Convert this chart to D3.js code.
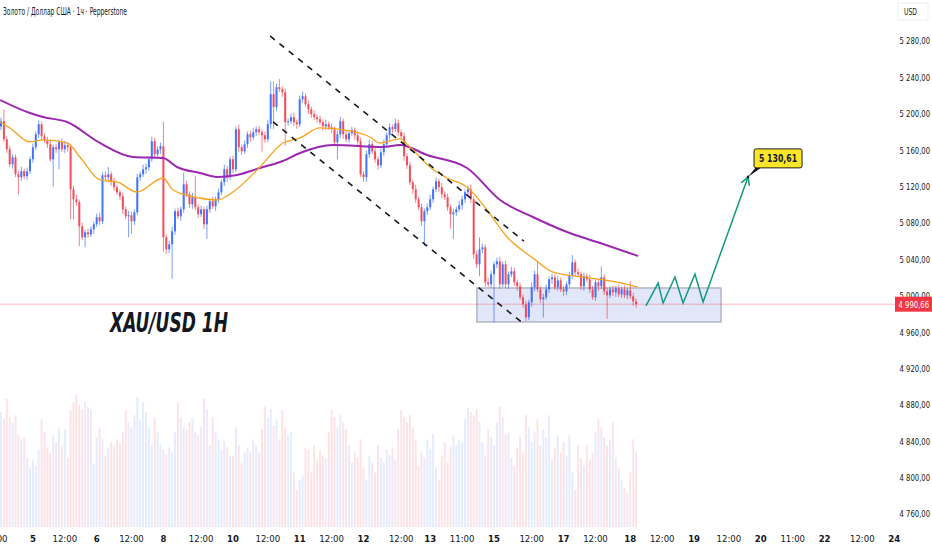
<!DOCTYPE html>
<html lang="ru">
<head>
<meta charset="UTF-8">
<title>XAU/USD 1H</title>
<script src="https://d3js.org/d3.v7.min.js"></script>
<style>
  body, html { margin: 0; padding: 0; background: #fff; overflow: hidden; }
  svg { display: block; }
  text { font-family: "Liberation Sans Narrow", "DejaVu Sans Condensed", "Roboto Condensed", Roboto, sans-serif; fill: #131722; }
</style>
</head>
<body>
<div id="chart"></div>
<script>
// hourly closes, read bar by bar (open = previous close)
const firstOpen = 5186;
const closes = [
  5191.8,5172,5161,5144.5,5152.2,5133.5,5130.2,5136.8,5131.3,5136.8,
  5150,5163.2,5177.5,5188.5,5175.3,5170.9,5166.5,5150,5163.2,5161,
  5168.7,5161,5165.4,5163.2,5117,5106,5102.7,5076.3,5064.2,5069.7,
  5067.5,5073,5078.5,5086.2,5081.8,5132.4,5130.2,5133.5,5125.8,5119.2,
  5113.7,5109.3,5095,5087.3,5088.4,5081.8,5091.7,5130.2,5133.5,5139,
  5141.2,5150,5169.8,5155.5,5161,5164.3,5064.2,5051,5056.5,5070.8,
  5092.8,5087.3,5095,5122.5,5111.5,5100.5,5108.2,5097.2,5089.5,5095,
  5078.5,5095,5103.8,5098.3,5106,5113.7,5124.7,5139,5130.2,5150,
  5139,5183,5163.2,5158.8,5166.5,5177.5,5174.2,5179.7,5183,5179.7,
  5176.4,5172,5188.5,5221.5,5207.2,5229.2,5227,5223.7,5190.7,5191.8,
  5196.2,5190.7,5188.5,5216,5219.3,5210.5,5205,5199.5,5196.2,5194,
  5190.7,5186.3,5188.5,5185.2,5183,5168.7,5177.5,5191.8,5177.5,5172,
  5178.6,5181.9,5176.4,5169.8,5133.5,5130.2,5155.5,5166.5,5158.8,5150,
  5143.4,5157.7,5166.5,5176.4,5185.2,5183,5189.6,5179.7,5175.3,5153.3,
  5143.4,5124.7,5117,5106,5097.2,5081.8,5092.8,5097.2,5106,5117,
  5125.8,5119.2,5111.5,5108.2,5097.2,5089.5,5091.7,5095,5099.4,5106,
  5113.7,5117,5106,5045.5,5034.5,5051,5053.2,5014.7,5012.5,5023.5,
  5034.5,5037.8,5012.5,5034.5,5012.5,5023.5,5026.8,5014.7,5010.3,4998.2,
  4990.5,4976.2,4992.7,5009.2,5023.5,5007,4996,4998.2,5007,5018,
  5020.2,5009.2,5016.9,5007,5004.8,5012.5,5022.4,5036.7,5025.7,5023.5,
  5010.3,5021.3,5018,5007,4998.2,5014.7,5010.3,5020.2,5004.8,5000.4,
  5007,5003.7,5008.1,5001.5,5007,5000.4,5005.9,4999.3,4993.8,4990.66
];
// upper / lower wick lengths beyond the body, in USD
const wickUp = [
  4,13,3,4,3,3,4,5,3,4, 3,4,3,4,3,3,4,5,3,4, 3,4,5,3,3,4,5,3,4,3,
  4,3,3,4,5,3,4,8,3,4, 3,3,4,3,5,4,3,4,3,5, 4,3,5,4,3,4,27,3,4,5,
  3,4,3,13,4,3,5,23,3,4, 3,4,3,5,3,4,3,5,4,3, 4,3,5,3,4,3,4,5,3,4,
  3,4,5,14,14,4,9,3,4,3, 4,5,3,4,5,3,4,3,4,3, 4,3,5,3,4,3,4,5,3,4,
  3,4,3,5,4,3,4,5,3,4, 3,4,5,3,4,3,5,4,3,4, 3,4,3,5,3,4,3,4,5,3,
  4,3,5,3,4,3,4,3,5,4, 3,4,5,3,4,13,4,3,5,4, 3,4,5,3,4,3,5,4,3,4,
  3,4,3,5,4,14,3,4,5,3, 4,3,5,3,4,3,4,8,3,4, 3,4,3,5,4,3,4,12,3,4,
  3,4,3,4,3,4,3,10,4,3
];
const wickDn = [
  4,3,4,3,5,3,19,4,3,4, 3,4,3,4,5,3,4,3,30,4, 22,3,4,5,33,22,4,22,3,11,
  4,3,5,3,4,3,4,3,5,4, 3,4,5,3,23,14,4,3,4,3, 5,4,3,4,3,5,16,5,4,38,
  4,3,5,4,3,4,5,3,4,3, 5,16,4,3,5,4,3,4,5,3, 4,3,5,4,3,4,5,3,4,3,
  18,4,3,5,24,4,3,5,26,4, 3,4,5,3,4,3,5,4,3,4, 3,5,4,3,4,3,19,4,5,3,
  4,3,5,4,3,5,5,4,3,4, 5,3,4,3,5,4,3,4,3,5, 4,3,5,4,3,5,27,4,3,4,
  3,5,4,3,4,16,27,4,3,5, 4,3,4,5,4,13,4,5,3,4, 53,4,5,3,4,5,3,4,5,3,
  4,4,3,5,4,3,4,20,3,4, 5,3,4,3,5,4,3,4,5,3, 4,5,3,4,3,4,5,3,4,26,
  3,4,5,3,4,3,4,3,5,4
];
// volume, relative units
const volume = [
  115,108,128,110,105,112,92,88,90,70, 60,68,62,78,108,95,80,75,92,85,
  100,82,98,70,117,125,132,122,118,125, 120,118,63,90,100,88,72,80,85,82,
  88,84,95,117,105,100,112,130,108,125, 115,100,82,110,95,83,78,73,80,75,
  95,125,110,100,98,105,110,95,92,100, 128,118,82,110,95,88,78,86,80,72,
  72,100,82,65,75,80,76,88,82,75, 98,120,110,118,102,108,88,117,100,92,
  95,55,38,48,52,80,78,55,82,68, 77,72,70,95,117,110,100,112,105,98,
  82,65,75,70,88,60,48,72,65,55, 82,70,65,78,72,80,68,98,117,110,
  105,112,100,88,62,75,70,88,78,93, 60,48,72,85,65,80,92,82,88,85,
  108,119,115,112,118,105,85,72,98,90, 82,105,120,110,93,95,70,62,80,90,
  75,112,100,85,95,108,82,98,90,112, 68,80,92,75,85,72,92,55,38,82,
  70,62,82,68,75,95,108,100,90,82, 88,105,70,60,48,40,35,55,88,75
];

// moving averages, read at bar positions
const fastIdx = [-0.3,3.1,10,14.5,22.8,27.2,34.1,40,46.9,55.9,59.3,68.6,74.5,80,89.3,97.2,103.1,110,120.3,127.2,130.7,137.6,141,147.9,153.8,160.7,167.6,174.5,183.4,190.3,200.7,212.4,219.7];
const fastVal = [5191,5184.4,5169,5171.2,5167.9,5152.5,5127.2,5125,5114,5129.4,5116.2,5107.4,5105.2,5114,5141.5,5167.9,5173.4,5184.4,5181.1,5174.5,5167.9,5172.3,5163.5,5141.5,5129.4,5119.5,5094.2,5064.5,5041.4,5026,5020.5,5015,5009.5];
const slowIdx = [-0.3,10,14.5,22.8,34.1,45.5,55.9,60.7,68.6,74.5,81.4,89.3,97.2,103.1,114.5,131.7,137.6,146.9,160.7,172.1,183.4,195.2,206.6,219.7];
const slowVal = [5215.1,5200.8,5196.4,5191,5167.9,5152.5,5151.4,5141.5,5134.9,5130.5,5132.7,5140.4,5148.1,5156.9,5165.7,5163.5,5165.7,5154.7,5140.4,5105.2,5086.5,5070,5057.9,5043.6];

// drawings: [barIndex, price]
const channelTop = [[92.8, 5285.5], [180.3, 5060.1]];
const channelBottom = [[93.8, 5191], [180.3, 4968.9]];
const rangeBox = [[164.1, 5008.5], [248.3, 4971.1]];
const pathIdx = [222.4, 226.6, 228.3, 232.4, 235.2, 239.3, 242.1, 257.6];
const pathVal = [4988.7, 5013.9, 4991.9, 5020.5, 4991.9, 5023.8, 4993.1, 5130.61];
const target = 5130.61;
const lastPrice = 4990.66;

// axes
const priceTicks = d3.range(4760, 5281, 40);
const timeIdx = [-2, 11, 22, 33, 45, 56, 69, 80, 92, 103, 114, 125, 138, 148, 159, 170, 183, 194, 205, 217, 228, 239, 251, 262, 273, 284, 297, 308];
const timeLabels = ["12:00","5","12:00","6","12:00","8","12:00","10","12:00","11","12:00","12","12:00","13","11:00","15","12:00","17","12:00","18","12:00","19","12:00","20","11:00","22","12:00","24"];

const W = 932, H = 550, plotR = 895, plotB = 527;
const up = "#2962ff", down = "#f23645";

const ru = d3.formatLocale({decimal: ",", thousands: "\u00a0", grouping: [3], currency: ["", ""]});
const fmt = ru.format(",.2f");

const x = d3.scaleLinear().domain([0, 219]).range([1, 636.1]);
const y = d3.scaleLinear().domain([4760, 5280]).range([514, 41]);
const yVol = d3.scaleLinear().domain([0, 132]).range([528, 395]);

const bars = closes.map((c, i) => {
  const o = i === 0 ? firstOpen : closes[i - 1];
  return {i, o, c, h: Math.max(o, c) + wickUp[i], l: Math.min(o, c) - wickDn[i], v: volume[i]};
});

const svg = d3.select("#chart").append("svg")
  .attr("width", W).attr("height", H);

svg.append("rect").attr("width", W).attr("height", H).attr("fill", "#fff");

svg.append("clipPath").attr("id", "plot")
  .append("rect").attr("x", 0).attr("y", 0).attr("width", plotR).attr("height", plotB);

const g = svg.append("g").attr("clip-path", "url(#plot)");

// volume
g.append("g").selectAll("rect").data(bars).join("rect")
  .attr("x", d => x(d.i) - 1)
  .attr("width", 2)
  .attr("y", d => yVol(d.v))
  .attr("height", d => yVol(0) - yVol(d.v))
  .attr("fill", d => d.c >= d.o ? "rgba(41,98,255,0.12)" : "rgba(242,54,69,0.14)");

// range box
g.append("rect")
  .attr("x", x(rangeBox[0][0]))
  .attr("y", y(rangeBox[0][1]))
  .attr("width", x(rangeBox[1][0]) - x(rangeBox[0][0]))
  .attr("height", y(rangeBox[1][1]) - y(rangeBox[0][1]))
  .attr("fill", "rgba(110,130,225,0.2)")
  .attr("stroke", "#a3a6b4")
  .attr("stroke-width", 1.2);

// last price line
g.append("line")
  .attr("x1", 0).attr("x2", plotR)
  .attr("y1", y(lastPrice)).attr("y2", y(lastPrice))
  .attr("stroke", "#f23645").attr("stroke-opacity", 0.35).attr("stroke-width", 1);

// candles
const cg = g.append("g").selectAll("g").data(bars).join("g")
  .attr("opacity", 0.88);
cg.append("line")
  .attr("x1", d => x(d.i)).attr("x2", d => x(d.i))
  .attr("y1", d => y(d.h)).attr("y2", d => y(d.l))
  .attr("stroke", d => d.c >= d.o ? up : down)
  .attr("stroke-opacity", 0.7)
  .attr("stroke-width", 1);
cg.append("rect")
  .attr("x", d => x(d.i) - 1)
  .attr("width", 2)
  .attr("y", d => y(Math.max(d.o, d.c)))
  .attr("height", d => Math.max(1, Math.abs(y(d.o) - y(d.c))))
  .attr("fill", d => d.c >= d.o ? up : down);

// moving averages
const maLine = d3.line().x(d => x(d[0])).y(d => y(d[1])).curve(d3.curveMonotoneX);
g.append("path")
  .attr("d", maLine(slowIdx.map((v, i) => [v, slowVal[i]])))
  .attr("fill", "none").attr("stroke", "#9c27b0").attr("stroke-width", 2);
g.append("path")
  .attr("d", maLine(fastIdx.map((v, i) => [v, fastVal[i]])))
  .attr("fill", "none").attr("stroke", "#f7a21b").attr("stroke-width", 1.3);

// channel
[channelTop, channelBottom].forEach(seg => {
  g.append("line")
    .attr("x1", x(seg[0][0])).attr("y1", y(seg[0][1]))
    .attr("x2", x(seg[1][0])).attr("y2", y(seg[1][1]))
    .attr("stroke", "#131722").attr("stroke-width", 1.6)
    .attr("stroke-dasharray", "6,6");
});

// projected path
const pts = pathIdx.map((v, i) => [x(v), y(pathVal[i])]);
g.append("path")
  .attr("d", d3.line()(pts))
  .attr("fill", "none").attr("stroke", "#129a7f").attr("stroke-width", 1.5);
const tip = pts[pts.length - 1], prev = pts[pts.length - 2];
const ang = Math.atan2(prev[1] - tip[1], prev[0] - tip[0]);
const head = [ang - 0.5, ang + 0.5].map(a => [tip[0] + 9 * Math.cos(a), tip[1] + 9 * Math.sin(a)]);
g.append("path")
  .attr("d", d3.line()([head[0], tip, head[1]]))
  .attr("fill", "none").attr("stroke", "#129a7f").attr("stroke-width", 1.5);

// target label
const tx = x(pathIdx[pathIdx.length - 1]), ty = y(target);
g.append("circle").attr("cx", tx).attr("cy", ty).attr("r", 1.3).attr("fill", "#131722");
g.append("path")
  .attr("d", `M${tx},${ty} L${tx + 8},${ty - 10} L${tx + 14},${ty - 10} Z`)
  .attr("fill", "#131722");
g.append("rect")
  .attr("x", tx + 6).attr("y", ty - 28)
  .attr("width", 48).attr("height", 19).attr("rx", 2)
  .attr("fill", "#fbe52a").attr("stroke", "#1e1e1e").attr("stroke-width", 1);
g.append("text")
  .attr("x", tx + 11).attr("y", ty - 14.5)
  .attr("font-size", 11).attr("font-weight", 600)
  .attr("textLength", 38).attr("lengthAdjust", "spacingAndGlyphs")
  .text(fmt(target));

// big label
g.append("text")
  .attr("x", 110).attr("y", 332)
  .attr("font-size", 27).attr("font-weight", 700).attr("font-style", "italic")
  .attr("textLength", 118).attr("lengthAdjust", "spacingAndGlyphs")
  .text("XAU/USD 1H");

// header
svg.append("text")
  .attr("x", 3).attr("y", 15)
  .attr("font-size", 10).attr("font-weight", 500)
  .attr("textLength", 124).attr("lengthAdjust", "spacingAndGlyphs")
  .text("Золото / Доллар США · 1ч · Pepperstone");

// price axis
svg.append("rect").attr("x", plotR + 3).attr("y", 3).attr("width", 30).attr("height", 17)
  .attr("fill", "#fff").attr("stroke", "#eceef2");
svg.append("text").attr("x", plotR + 9).attr("y", 15)
  .attr("font-size", 8.5)
  .attr("textLength", 13).attr("lengthAdjust", "spacingAndGlyphs")
  .text("USD");

// narrow axis font: squeeze the label column horizontally
const axisCol = svg.append("g").attr("transform", `translate(${W - 2},0) scale(0.8,1)`);
axisCol.selectAll("text.tick").data(priceTicks).join("text")
  .attr("class", "tick")
  .attr("x", 0).attr("y", d => y(d) + 3.5)
  .attr("text-anchor", "end")
  .attr("font-size", 9.5)
  .text(d => fmt(d));

svg.append("rect")
  .attr("x", plotR).attr("y", y(lastPrice) - 7.5)
  .attr("width", W - plotR).attr("height", 15)
  .attr("fill", "#f23645");
svg.append("g").attr("transform", `translate(${W - 3},0) scale(0.8,1)`)
  .append("text")
  .attr("x", 0).attr("y", y(lastPrice) + 3.5)
  .attr("text-anchor", "end")
  .attr("font-size", 9.5)
  .style("fill", "#fff")
  .text(fmt(lastPrice));

// time axis
svg.append("g").selectAll("text").data(timeIdx).join("text")
  .attr("x", d => x(d)).attr("y", 542)
  .attr("text-anchor", "middle")
  .attr("font-size", 9.5)
  .attr("font-weight", (d, i) => timeLabels[i].includes(":") ? 400 : 700)
  .text((d, i) => timeLabels[i]);
</script>
</body>
</html>
